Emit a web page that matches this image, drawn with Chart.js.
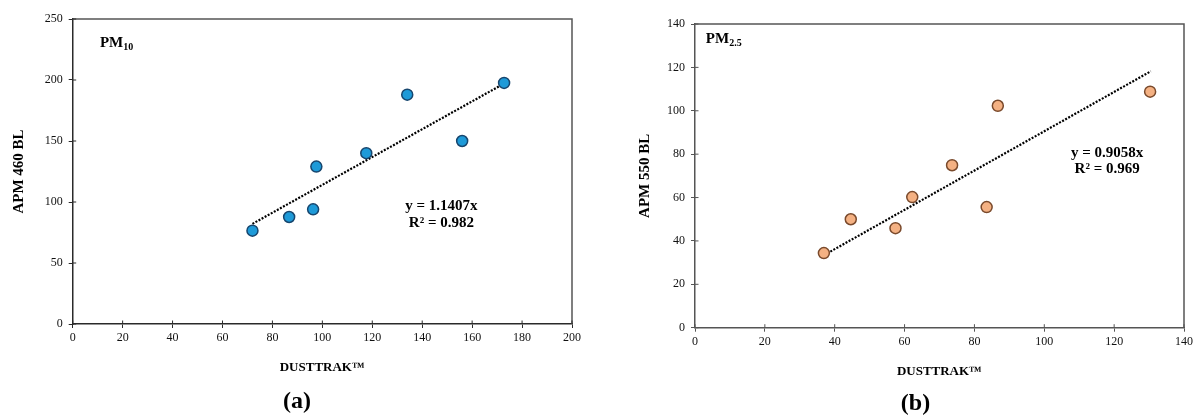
<!DOCTYPE html>
<html>
<head>
<meta charset="utf-8">
<script src="https://cdn.jsdelivr.net/npm/chart.js@4/dist/chart.umd.min.js"></script>
<style>
    body { margin: 0; background: #fff; }
    .panel { position: absolute; top: 0; height: 418px; }
    #panelA { left: 0; width: 594px; }
    #panelB { left: 636px; width: 559px; }
</style>
</head>
<body>
<div class="panel" id="panelA"><canvas id="chartA" width="594" height="418"></canvas></div>
<div class="panel" id="panelB"><canvas id="chartB" width="559" height="418"></canvas></div>
<script>
// --- (a) PM10 ---
const dustTrakA = [72, 86.7, 96.3, 97.6, 117.6, 134, 156, 172.8];
const apm460 = [76.5, 87.7, 94, 129, 140, 188, 150, 197.6];
const trendAX = [72, 172.8];
const trendAY = [82.1, 197.1];

// --- (b) PM2.5 ---
const dustTrakB = [36.9, 44.6, 57.4, 62.2, 73.6, 83.5, 86.7, 130.3];
const apm550 = [34.4, 50, 45.9, 60.2, 74.9, 55.6, 102.3, 108.8];
const trendBX = [37, 130.5];
const trendBY = [33.5, 118.2];

const FONT = '"Liberation Serif", "Times New Roman", serif';

function toPoints(xs, ys) {
    return xs.map((x, i) => ({ x: x, y: ys[i] }));
}

// draws the plot frame, inner tick halves and the text notes
const notesPlugin = {
    id: 'notes',
    afterDraw(chart, args, opts) {
        const ctx = chart.ctx;
        const area = chart.chartArea;
        const xs = chart.scales.x;
        const ys = chart.scales.y;
        ctx.save();

        // top / right frame
        ctx.strokeStyle = opts.frameColor;
        ctx.lineWidth = 1.5;
        ctx.beginPath();
        ctx.moveTo(area.left, area.top);
        ctx.lineTo(area.right, area.top);
        ctx.lineTo(area.right, area.bottom);
        ctx.stroke();

        // tick marks crossing into the plot
        ctx.strokeStyle = opts.axisColor;
        ctx.lineWidth = 1;
        ctx.beginPath();
        xs.ticks.forEach(t => {
            const px = xs.getPixelForValue(t.value);
            ctx.moveTo(px, area.bottom);
            ctx.lineTo(px, area.bottom - 3.5);
        });
        ys.ticks.forEach(t => {
            const py = ys.getPixelForValue(t.value);
            ctx.moveTo(area.left, py);
            ctx.lineTo(area.left + 3.5, py);
        });
        ctx.stroke();

        // PM label with subscript
        ctx.fillStyle = '#000';
        ctx.textBaseline = 'middle';
        ctx.textAlign = 'left';
        const lx = xs.getPixelForValue(opts.labelAt[0]);
        const ly = ys.getPixelForValue(opts.labelAt[1]);
        ctx.font = 'bold 15px ' + FONT;
        ctx.fillText(opts.label[0], lx, ly);
        const w = ctx.measureText(opts.label[0]).width;
        ctx.font = 'bold 10px ' + FONT;
        ctx.fillText(opts.label[1], lx + w, ly + 4);

        // equation
        ctx.textAlign = 'center';
        ctx.font = 'bold 15px ' + FONT;
        const ex = xs.getPixelForValue(opts.eqAt[0]);
        ctx.fillText(opts.eq[0], ex, ys.getPixelForValue(opts.eqAt[1]));
        ctx.fillText(opts.eq[1], ex, ys.getPixelForValue(opts.eqAt[2]));
        ctx.restore();
    }
};

function makeChart(id, cfg) {
    const axisColor = cfg.axisColor;
    new Chart(document.getElementById(id), {
        type: 'scatter',
        data: {
            datasets: [{
                data: toPoints(cfg.xs, cfg.ys),
                backgroundColor: cfg.fill,
                borderColor: cfg.edge,
                borderWidth: 1.5,
                pointRadius: 5.5
            }, {
                data: toPoints(cfg.trendX, cfg.trendY),
                showLine: true,
                borderColor: '#000',
                borderWidth: 2.2,
                borderDash: [2, 1.5],
                pointRadius: 0
            }]
        },
        options: {
            responsive: false,
            animation: false,
            events: [],
            layout: { padding: { top: cfg.top, left: 0, right: 0, bottom: 0 } },
            scales: {
                x: {
                    type: 'linear',
                    min: 0,
                    max: cfg.xMax,
                    ticks: { stepSize: 20, color: '#111', font: { family: FONT, size: 12 }, padding: 3, maxRotation: 0 },
                    grid: { drawOnChartArea: false, tickLength: 4, color: axisColor },
                    border: { color: axisColor, width: 1.5 },
                    title: {
                        display: true,
                        text: 'DUSTTRAK™',
                        color: '#000',
                        font: { family: FONT, size: 13, weight: 'bold' },
                        padding: { top: 0, bottom: cfg.xTitlePad }
                    },
                    afterFit: s => { s.height = cfg.xHeight; s.paddingLeft = 0; s.paddingRight = 0; }
                },
                y: {
                    type: 'linear',
                    min: 0,
                    max: cfg.yMax,
                    ticks: { stepSize: cfg.yStep, color: '#111', font: { family: FONT, size: 12 }, padding: 6 },
                    grid: { drawOnChartArea: false, tickLength: 4, color: axisColor },
                    border: { color: axisColor, width: 1.5 },
                    title: {
                        display: true,
                        text: cfg.yTitle,
                        color: '#000',
                        font: { family: FONT, size: 15, weight: 'bold' },
                        padding: { top: cfg.yTitlePad, bottom: 0 }
                    },
                    afterFit: s => { s.width = cfg.yWidth; }
                },
                spacer: {
                    type: 'linear',
                    position: 'right',
                    grid: { display: false },
                    border: { display: false },
                    ticks: { display: false },
                    afterFit: s => { s.width = cfg.rightGap; }
                }
            },
            plugins: {
                legend: { display: false },
                tooltip: { enabled: false },
                title: {
                    display: true,
                    position: 'bottom',
                    text: cfg.caption,
                    color: '#000',
                    font: { family: FONT, size: 24, weight: 'bold' },
                    padding: { top: 0, bottom: cfg.captionPad }
                },
                notes: {
                    frameColor: cfg.frameColor,
                    axisColor: axisColor,
                    label: cfg.label,
                    labelAt: cfg.labelAt,
                    eq: cfg.eq,
                    eqAt: cfg.eqAt
                }
            }
        },
        plugins: [notesPlugin]
    });
}

makeChart('chartA', {
    xs: dustTrakA, ys: apm460, trendX: trendAX, trendY: trendAY,
    fill: '#1e9ad8', edge: '#17466e',
    xMax: 200, yMax: 250, yStep: 50,
    yTitle: 'APM 460 BL', caption: '(a)',
    top: 19, yWidth: 72.7, rightGap: 22, xHeight: 63.6,
    xTitlePad: 11.8, yTitlePad: 10, captionPad: 1.6,
    axisColor: '#2a2a2a', frameColor: '#555',
    label: ['PM', '10'], labelAt: [10.9, 230],
    eq: ['y = 1.1407x', 'R² = 0.982'], eqAt: [147.7, 97, 83]
});

makeChart('chartB', {
    xs: dustTrakB, ys: apm550, trendX: trendBX, trendY: trendBY,
    fill: '#f4b183', edge: '#7a4a2c',
    xMax: 140, yMax: 140, yStep: 20,
    yTitle: 'APM 550 BL', caption: '(b)',
    top: 24, yWidth: 59, rightGap: 11, xHeight: 61.5,
    xTitlePad: 9.7, yTitlePad: 0, captionPad: 0,
    axisColor: '#555', frameColor: '#555',
    label: ['PM', '2.5'], labelAt: [3.1, 133],
    eq: ['y = 0.9058x', 'R² = 0.969'], eqAt: [118, 80.6, 73]
});
</script>
</body>
</html>
